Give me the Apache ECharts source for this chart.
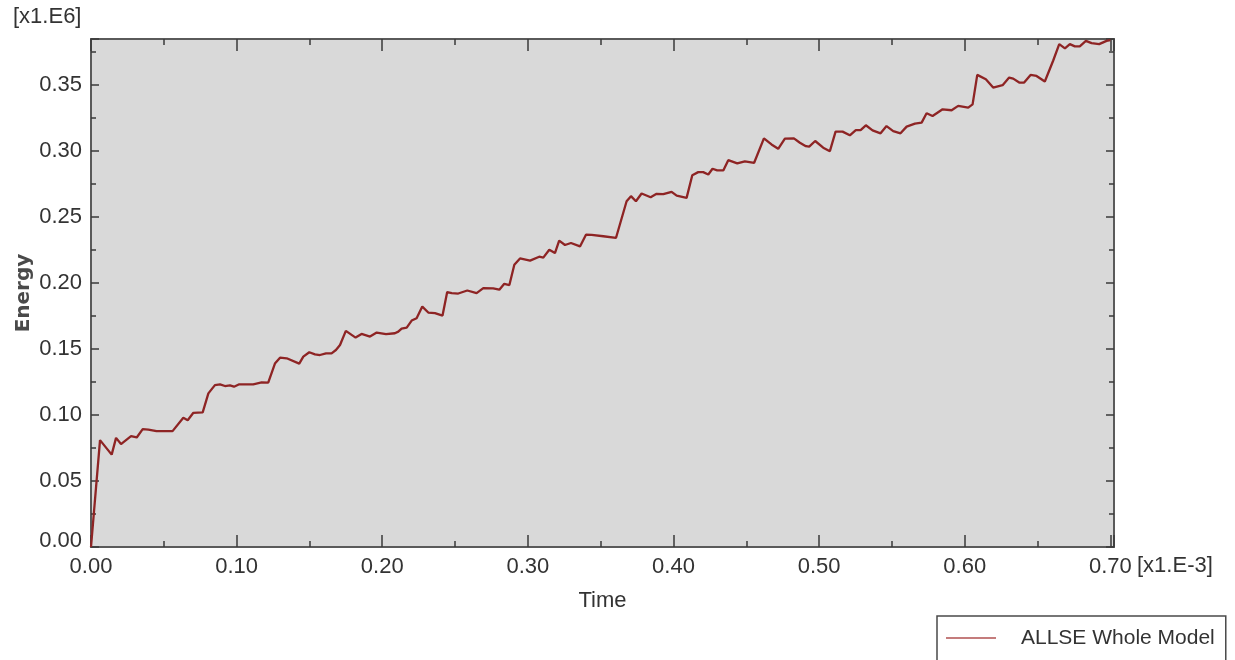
<!DOCTYPE html>
<html>
<head>
<meta charset="utf-8">
<title>ALLSE Whole Model</title>
<script src="https://cdn.jsdelivr.net/npm/echarts@6/dist/echarts.min.js"></script>
<style>
  html, body { margin: 0; padding: 0; background: #ffffff; }
  #chart { width: 1235px; height: 660px; }
</style>
</head>
<body>
<div id="chart"></div>
<script>
// Time values (x1.E-3)
const timeValues = [
  0, 0.0062, 0.0142, 0.0172, 0.0206, 0.0275, 0.0314, 0.0355, 0.0394, 0.045,
  0.056, 0.0634, 0.0664, 0.0703, 0.0767, 0.0806, 0.0851, 0.0886, 0.092, 0.0954,
  0.0982, 0.1018, 0.1114, 0.1172, 0.1217, 0.1263, 0.1298, 0.1344, 0.143, 0.1458,
  0.1499, 0.1538, 0.1572, 0.1614, 0.1652, 0.1682, 0.171, 0.175, 0.1817, 0.1858,
  0.1916, 0.1962, 0.2026, 0.2087, 0.211, 0.2133, 0.2168, 0.2202, 0.2236, 0.2275,
  0.2316, 0.2362, 0.2414, 0.2446, 0.2477, 0.2522, 0.2584, 0.2648, 0.2694, 0.2762,
  0.2804, 0.2838, 0.2873, 0.2907, 0.2946, 0.3015, 0.3078, 0.3106, 0.3147, 0.3186,
  0.3215, 0.3255, 0.3296, 0.3358, 0.3399, 0.3438, 0.3518, 0.3605, 0.3678, 0.3708,
  0.3742, 0.3781, 0.3843, 0.3884, 0.393, 0.3987, 0.4022, 0.409, 0.4129, 0.417,
  0.4204, 0.4239, 0.4268, 0.43, 0.4342, 0.4376, 0.4438, 0.449, 0.4554, 0.4621,
  0.4673, 0.4719, 0.4765, 0.4827, 0.4868, 0.4909, 0.4932, 0.4973, 0.5028, 0.5074,
  0.5113, 0.5161, 0.5211, 0.5252, 0.5285, 0.5321, 0.5367, 0.5422, 0.5463, 0.5509,
  0.5559, 0.5601, 0.5658, 0.5704, 0.5738, 0.5779, 0.5848, 0.591, 0.5955, 0.6024,
  0.6054, 0.6086, 0.6145, 0.6195, 0.626, 0.6305, 0.6333, 0.6374, 0.6408, 0.6452,
  0.6493, 0.655, 0.6607, 0.6649, 0.6688, 0.6722, 0.6756, 0.679, 0.6832, 0.6871,
  0.6923, 0.6974, 0.7
];

// ALLSE energy values (x1.E6)
const energyValues = [
  0, 0.081, 0.070, 0.0827, 0.078, 0.084, 0.083, 0.0893, 0.089, 0.0878,
  0.0878, 0.0979, 0.0961, 0.1017, 0.102, 0.1164, 0.1227, 0.1233, 0.122, 0.1225,
  0.1215, 0.1233, 0.1233, 0.1248, 0.1245, 0.139, 0.1435, 0.143, 0.139, 0.1443,
  0.1476, 0.146, 0.1455, 0.1468, 0.1468, 0.1493, 0.1531, 0.1638, 0.1587, 0.1615,
  0.1595, 0.1625, 0.1613, 0.162, 0.1632, 0.1655, 0.1663, 0.1716, 0.1734, 0.1822,
  0.1777, 0.1772, 0.1754, 0.1932, 0.1924, 0.1921, 0.1944, 0.1924, 0.1962, 0.196,
  0.195, 0.1995, 0.1985, 0.2139, 0.2187, 0.217, 0.22, 0.2193, 0.2253, 0.2228,
  0.2322, 0.2289, 0.2304, 0.2278, 0.2367, 0.2365, 0.2355, 0.2342, 0.262, 0.2659,
  0.262, 0.2679, 0.2651, 0.2677, 0.2674, 0.2692, 0.2663, 0.2646, 0.2818, 0.2841,
  0.2841, 0.2823, 0.2867, 0.2854, 0.2854, 0.2932, 0.2907, 0.2922, 0.2912, 0.3097,
  0.3051, 0.3018, 0.3095, 0.3097, 0.3064, 0.3038, 0.3034, 0.3077, 0.3026, 0.3,
  0.3148, 0.3148, 0.312, 0.316, 0.316, 0.3196, 0.3158, 0.3135, 0.319, 0.3152,
  0.3135, 0.3186, 0.3209, 0.3216, 0.3287, 0.3266, 0.3317, 0.331, 0.3343, 0.333,
  0.3355, 0.3578, 0.3545, 0.3482, 0.35, 0.3558, 0.355, 0.352, 0.352, 0.3578,
  0.357, 0.3528, 0.3685, 0.3811, 0.3779, 0.3811, 0.3794, 0.3794, 0.3836, 0.3819,
  0.3811, 0.3836, 0.3842
];

const xTickLabels = ['0.00', '0.10', '0.20', '0.30', '0.40', '0.50', '0.60', '0.70'];
const yTickLabels = ['0.00', '0.05', '0.10', '0.15', '0.20', '0.25', '0.30', '0.35'];

const seriesName = 'ALLSE Whole Model';
const X_MAX = 0.7025;
const Y_MAX = 0.385;

const FONT = 'Liberation Sans';
const TEXT_COLOR = '#333333';
const TICK_COLOR = '#3a3a3a';

function labelAt(labels, step) {
  return function (v) {
    const k = Math.round(v / step);
    if (Math.abs(v / step - k) > 1e-6 || k < 0 || k >= labels.length) return '';
    return labels[k];
  };
}

// An axis that only draws inward ticks along one edge of the plot box
function tickAxis(base, extra, tickLength) {
  return Object.assign({
    type: 'value',
    axisLine: { show: false, onZero: false },
    splitLine: { show: false },
    axisLabel: { show: false },
    axisTick: { show: true, inside: true, length: tickLength, lineStyle: { color: TICK_COLOR, width: 1.5 } }
  }, base, extra);
}

const chart = echarts.init(document.getElementById('chart'), null, { renderer: 'canvas' });

const xBase = { min: 0, max: X_MAX };
const yBase = { min: 0, max: Y_MAX };
const xLabelFmt = labelAt(xTickLabels, 0.1);
const yLabelFmt = labelAt(yTickLabels, 0.05);

chart.setOption({
  backgroundColor: '#ffffff',
  animation: false,
  textStyle: { fontFamily: FONT },
  grid: {
    left: 91, right: 121, top: 39, bottom: 113,
    show: true,
    backgroundColor: '#d9d9d9',
    borderColor: '#5a5a5a',
    borderWidth: 2
  },
  xAxis: [
    tickAxis(xBase, {
      position: 'bottom', interval: 0.1,
      axisLabel: {
        show: true, margin: 9, fontSize: 22, fontFamily: FONT, color: TEXT_COLOR,
        formatter: xLabelFmt, showMinLabel: true, showMaxLabel: true
      },
      name: 'Time', nameLocation: 'middle', nameGap: 43,
      nameTextStyle: { fontSize: 22, fontFamily: FONT, color: TEXT_COLOR }
    }, 12),
    tickAxis(xBase, { position: 'bottom', interval: 0.05 }, 6),
    tickAxis(xBase, { position: 'top', interval: 0.1 }, 12),
    tickAxis(xBase, { position: 'top', interval: 0.05 }, 6)
  ],
  yAxis: [
    tickAxis(yBase, {
      position: 'left', interval: 0.05,
      axisLabel: {
        show: true, margin: 9, fontSize: 22, fontFamily: FONT, color: TEXT_COLOR,
        formatter: function (v) {
          const s = yLabelFmt(v);
          return s === yTickLabels[0] ? '{z|' + s + '}' : s;
        },
        rich: { z: { fontSize: 22, fontFamily: FONT, color: TEXT_COLOR, padding: [0, 0, 12, 0] } },
        showMinLabel: true, showMaxLabel: true
      },
      name: 'Energy', nameLocation: 'middle', nameGap: 57, nameRotate: 90,
      nameMoveOverlap: false,
      nameTextStyle: { fontSize: 20, fontFamily: 'DejaVu Sans', fontWeight: 'bold', color: '#4a4a4a' }
    }, 8),
    tickAxis(yBase, { position: 'left', interval: 0.025 }, 5),
    tickAxis(yBase, { position: 'right', interval: 0.05 }, 8),
    tickAxis(yBase, { position: 'right', interval: 0.025 }, 5)
  ],
  legend: {
    show: true,
    left: 937, top: 616,
    orient: 'horizontal',
    padding: [11, 11, 40, 9],
    backgroundColor: '#ffffff',
    borderColor: '#4a4a4a',
    borderWidth: 1.5,
    borderRadius: 0,
    itemWidth: 50,
    itemHeight: 2,
    data: [{ name: seriesName, icon: 'rect', itemStyle: { color: '#c47c7c' } }],
    textStyle: { fontSize: 21, fontFamily: FONT, color: TEXT_COLOR, padding: [0, 0, 0, 20], lineHeight: 22 }
  },
  graphic: [
    {
      type: 'text', left: 13, top: 6,
      style: { text: '[x1.E6]', font: '22px "' + FONT + '"', fill: TEXT_COLOR }
    },
    {
      type: 'text', left: 1137, top: 555,
      style: { text: '[x1.E-3]', font: '22px "' + FONT + '"', fill: TEXT_COLOR }
    }
  ],
  series: [{
    name: seriesName,
    type: 'line',
    xAxisIndex: 0,
    yAxisIndex: 0,
    showSymbol: false,
    symbol: 'none',
    clip: true,
    lineStyle: { color: '#8e2424', width: 2.3 },
    itemStyle: { color: '#8e2424' },
    data: timeValues.map(function (t, i) { return [t, energyValues[i]]; })
  }]
});
</script>
</body>
</html>
